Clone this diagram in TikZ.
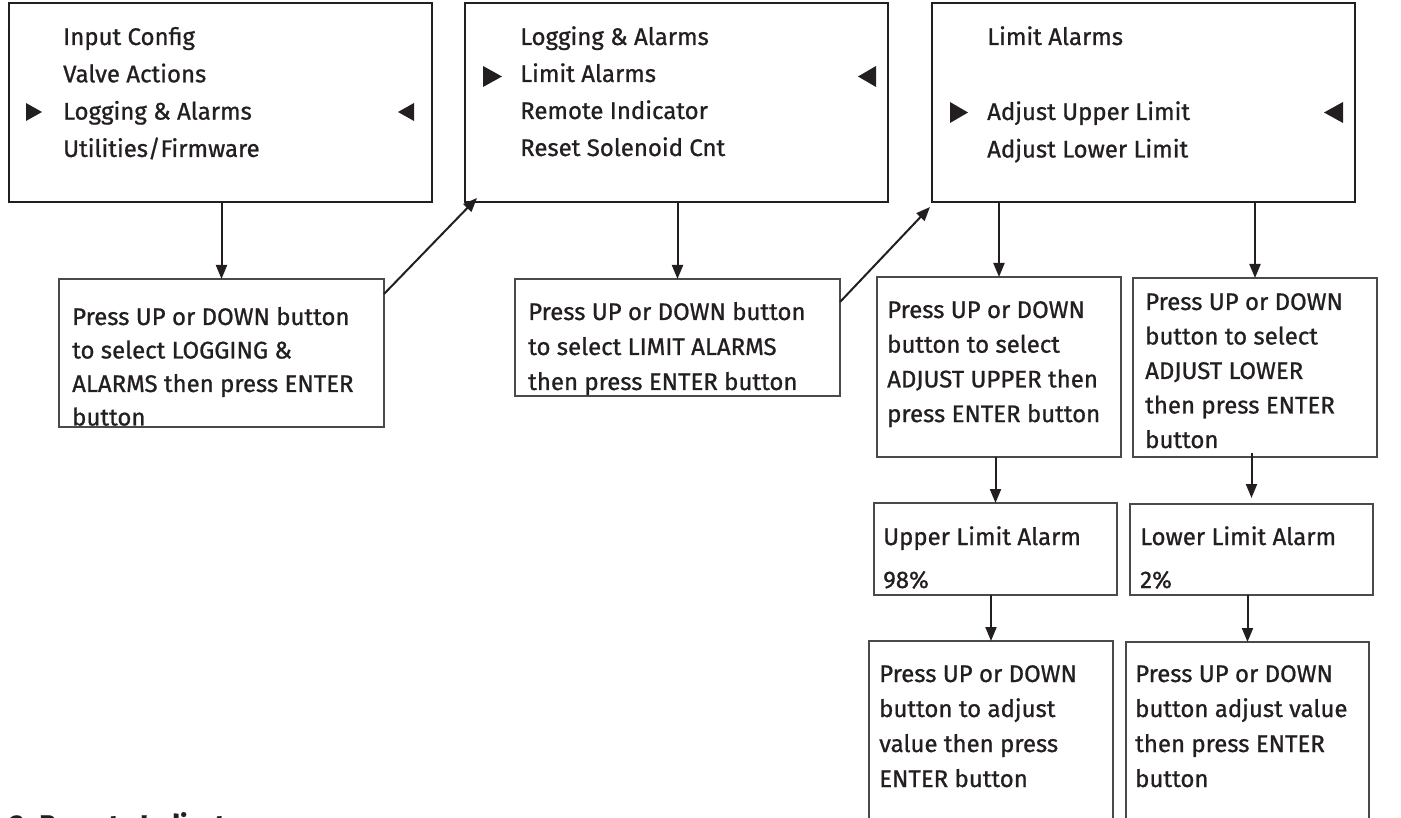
\documentclass[tikz,border=0pt]{standalone}
\usepackage{fontspec}
\setmainfont{Fira Sans}[FakeBold=0.9]
\usetikzlibrary{arrows.meta}
\newcommand\mylines[1]{\begin{tabular}[t]{@{}l@{}}#1\end{tabular}}
\definecolor{ink}{HTML}{231F20}
\definecolor{thin}{HTML}{4A4A4A}
\tikzset{
  bigbox/.style={draw=ink, line width=2.6pt, outer sep=0pt, inner sep=0pt, anchor=north west},
  smallbox/.style={draw=thin, line width=1.5pt, outer sep=0pt, inner sep=0pt, anchor=north west},
  txt/.style={text=ink, inner sep=0pt, anchor=base west},
  arr/.style={draw=ink, line width=2pt, -{Triangle[length=14pt,width=11pt]}},
  selmark/.style={fill=ink},
}
\begin{document}
\begin{tikzpicture}[x=1pt,y=-1pt]
\useasboundingbox (0,0) rectangle (1401,818);
% top boxes
\node[bigbox, minimum width=423, minimum height=199] (a1) at (9,3) {};
\node[bigbox, minimum width=423, minimum height=199] (a2) at (465,3) {};
\node[bigbox, minimum width=423, minimum height=199] (a3) at (932,3) {};
% lower boxes
\node[smallbox, minimum width=325, minimum height=148] (b1) at (59,279) {};
\node[smallbox, minimum width=325, minimum height=117] (b2) at (515,279) {};
\node[smallbox, minimum width=244, minimum height=180] (c1) at (877,277) {};
\node[smallbox, minimum width=244, minimum height=179] (c2) at (1133,278) {};
\node[smallbox, minimum width=243, minimum height=92] (d1) at (874,503) {};
\node[smallbox, minimum width=243, minimum height=91] (d2) at (1130,504) {};
\node[smallbox, minimum width=244, minimum height=210] (e1) at (869,641) {};
\node[smallbox, minimum width=243, minimum height=210] (e2) at (1126,642) {};
% texts
\node[txt, font=\fontsize{24}{37.3}\selectfont] (a1t) at (63,45) {\mylines{Input Config\\Valve Actions\\Logging \& Alarms\\Utilities/Firmware}};
\node[txt, font=\fontsize{24}{37}\selectfont] (a2t) at (520,45) {\mylines{Logging \& Alarms\\Limit Alarms\\Remote Indicator\\Reset Solenoid Cnt}};
\node[txt, font=\fontsize{24}{37.5}\selectfont] (a3t) at (987,45) {\mylines{Limit Alarms\\ \\Adjust Upper Limit\\Adjust Lower Limit}};
\node[txt, font=\fontsize{24}{33.5}\selectfont] (b1t) at (72,325) {\mylines{Press UP or DOWN button\\to select LOGGING \&\\ALARMS then press ENTER\\button}};
\node[txt, font=\fontsize{24}{35}\selectfont] (b2t) at (528,320) {\mylines{Press UP or DOWN button\\to select LIMIT ALARMS\\then press ENTER button}};
\node[txt, font=\fontsize{24}{34.7}\selectfont] (c1t) at (887,318) {\mylines{Press UP or DOWN\\button to select\\ADJUST UPPER then\\press ENTER button}};
\node[txt, font=\fontsize{24}{34.5}\selectfont] (c2t) at (1145,310) {\mylines{Press UP or DOWN\\button to select\\ADJUST LOWER\\then press ENTER\\button}};
\node[txt, font=\fontsize{24}{43}\selectfont] (d1t) at (883,545) {\mylines{Upper Limit Alarm\\98\%}};
\node[txt, font=\fontsize{24}{43}\selectfont] (d2t) at (1140,545) {\mylines{Lower Limit Alarm\\2\%}};
\node[txt, font=\fontsize{24}{35}\selectfont] (e1t) at (879,682) {\mylines{Press UP or DOWN\\button to adjust\\value then press\\ENTER button}};
\node[txt, font=\fontsize{24}{35}\selectfont] (e2t) at (1135,682) {\mylines{Press UP or DOWN\\button adjust value\\then press ENTER\\button}};
\node[txt, font=\fontsize{27}{30}\selectfont\bfseries] (sec) at (10,834) {3. Remote Indicator};
% selection markers
\fill[selmark] (26,103) -- (26,121) -- (42,112) -- cycle;
\fill[selmark] (414,103) -- (414,121) -- (398,112) -- cycle;
\fill[selmark] (483,66) -- (483,87) -- (502,76.5) -- cycle;
\fill[selmark] (876,66) -- (876,87) -- (858,76.5) -- cycle;
\fill[selmark] (950,102) -- (950,123) -- (968,112.5) -- cycle;
\fill[selmark] (1343,102) -- (1343,123) -- (1324,112.5) -- cycle;
% connectors
\draw[arr] (b1.north |- a1.south) -- (b1.north);
\draw[arr] (b2.north |- a2.south) -- (b2.north);
\draw[arr] (c1.north |- a3.south) -- (c1.north);
\draw[arr] (c2.north |- a3.south) -- (c2.north);
\draw[arr] (d1.north |- c1.south) -- (d1.north);
\draw[arr] ([yshift=4pt]d2.north |- c2.south) -- ([yshift=6pt]d2.north);
\draw[arr] (e1.north |- d1.south) -- (e1.north);
\draw[arr] (e2.north |- d2.south) -- (e2.north);
\draw[arr] ([yshift=-15pt]b1.north east) -- ([xshift=12pt,yshift=4pt]a2.south west);
\draw[arr] ([yshift=-23pt]b2.north east) -- ([xshift=-2pt,yshift=-5pt]a3.south west);
\end{tikzpicture}
\end{document}
